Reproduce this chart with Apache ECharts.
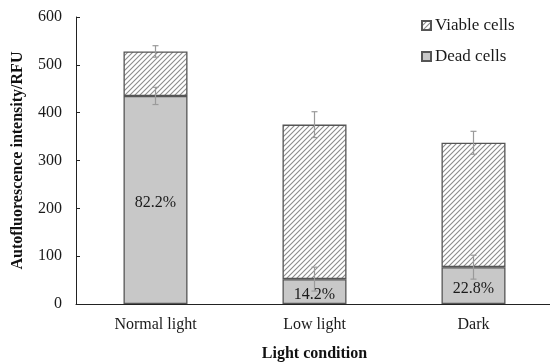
<!DOCTYPE html>
<html>
<head>
<meta charset="utf-8">
<script src="https://cdn.jsdelivr.net/npm/echarts@6/dist/echarts.min.js"></script>
<style>html,body{margin:0;padding:0;background:#fff}#c{width:550px;height:362px}</style>
</head>
<body>
<div id="c"></div>
<script>
const categories = ['Normal light', 'Low light', 'Dark'];
const deadCells = [435, 52, 77];
const viableCells = [93, 323, 260];
const deadErr = [18, 25, 25];
const totalErr = [12, 27, 24];
const pctLabels = ['82.2%', '14.2%', '22.8%'];
const yTicks = [0, 100, 200, 300, 400, 500, 600];

const FONT = '"Liberation Serif", "Times New Roman", serif';

function hatch(size, color) {
  const c = document.createElement('canvas');
  c.width = c.height = size;
  const g = c.getContext('2d');
  g.fillStyle = '#ffffff';
  g.fillRect(0, 0, size, size);
  g.strokeStyle = color;
  g.lineWidth = 1.1;
  g.beginPath();
  g.moveTo(0, size); g.lineTo(size, 0);
  g.moveTo(-1, 1); g.lineTo(1, -1);
  g.moveTo(size - 1, size + 1); g.lineTo(size + 1, size - 1);
  g.stroke();
  return c;
}

const totals = viableCells.map((v, i) => v + deadCells[i]);
const deadErrData = categories.map((c, i) => [i, deadCells[i], deadErr[i]]);
const totalErrData = categories.map((c, i) => [i, totals[i], totalErr[i]]);

function errRender(params, api) {
  const x = api.value(0), y = api.value(1), e = api.value(2);
  const hi = api.coord([x, y + e]);
  const lo = api.coord([x, y - e]);
  const cap = 3;
  const st = { stroke: '#9a9a9a', lineWidth: 1.2 };
  return {
    type: 'group',
    children: [
      { type: 'line', shape: { x1: hi[0], y1: hi[1], x2: lo[0], y2: lo[1] }, style: st },
      { type: 'line', shape: { x1: hi[0] - cap, y1: hi[1], x2: hi[0] + cap, y2: hi[1] }, style: st },
      { type: 'line', shape: { x1: lo[0] - cap, y1: lo[1], x2: lo[0] + cap, y2: lo[1] }, style: st }
    ]
  };
}

const chart = echarts.init(document.getElementById('c'), null, { renderer: 'canvas' });
chart.setOption({
  animation: false,
  backgroundColor: '#ffffff',
  textStyle: { fontFamily: FONT, color: '#1a1a1a' },
  grid: { left: 76, top: 17, width: 477, bottom: 58, containLabel: false, outerBoundsMode: 'none' },
  legend: {
    data: ['Viable cells', 'Dead cells'],
    orient: 'vertical',
    left: 421,
    top: 17,
    padding: 0,
    icon: 'rect',
    itemWidth: 9,
    itemHeight: 9,
    itemGap: 14,
    textStyle: { fontFamily: FONT, fontSize: 17, color: '#1a1a1a', padding: [0, 0, 0, -1] }
  },
  xAxis: {
    type: 'category',
    data: categories,
    name: 'Light condition',
    nameLocation: 'middle',
    nameGap: 42,
    nameTextStyle: { fontFamily: FONT, fontSize: 16, fontWeight: 'bold', color: '#111' },
    axisLine: { lineStyle: { color: '#222', width: 1 } },
    axisTick: { inside: true, length: 5, lineStyle: { color: '#222' } },
    axisLabel: { fontFamily: FONT, fontSize: 16, color: '#1a1a1a', margin: 13 }
  },
  yAxis: {
    type: 'value',
    min: 0,
    max: 600,
    interval: 100,
    name: 'Autofluorescence intensity/RFU',
    nameLocation: 'middle',
    nameGap: 50,
    nameTextStyle: { fontFamily: FONT, fontSize: 16, fontWeight: 'bold', color: '#111' },
    axisLine: { show: true, lineStyle: { color: '#222', width: 1 } },
    axisTick: { show: true, inside: true, length: 4, lineStyle: { color: '#222' } },
    splitLine: { show: false },
    axisLabel: {
      fontFamily: FONT, fontSize: 16, color: '#1a1a1a', margin: 14,
      formatter: v => (yTicks.indexOf(v) >= 0 ? String(v) : '')
    }
  },
  series: [
    {
      name: 'Dead cells',
      type: 'bar',
      stack: 'total',
      barWidth: 64,
      data: deadCells,
      itemStyle: { color: '#c8c8c8', borderColor: '#555555', borderWidth: 1.3 },
      label: {
        show: true,
        position: 'inside',
        offset: [0, 3],
        fontFamily: FONT,
        fontSize: 16,
        color: '#1a1a1a',
        formatter: p => pctLabels[p.dataIndex]
      }
    },
    {
      name: 'Viable cells',
      type: 'bar',
      stack: 'total',
      barWidth: 64,
      data: viableCells,
      itemStyle: {
        color: { image: hatch(5, '#8c8c8c'), repeat: 'repeat' },
        borderColor: '#555555',
        borderWidth: 1.3
      }
    },
    {
      name: 'errDead',
      type: 'custom',
      renderItem: errRender,
      data: deadErrData,
      z: 10,
      silent: true
    },
    {
      name: 'errTotal',
      type: 'custom',
      renderItem: errRender,
      data: totalErrData,
      z: 10,
      silent: true
    }
  ]
});
</script>
</body>
</html>
